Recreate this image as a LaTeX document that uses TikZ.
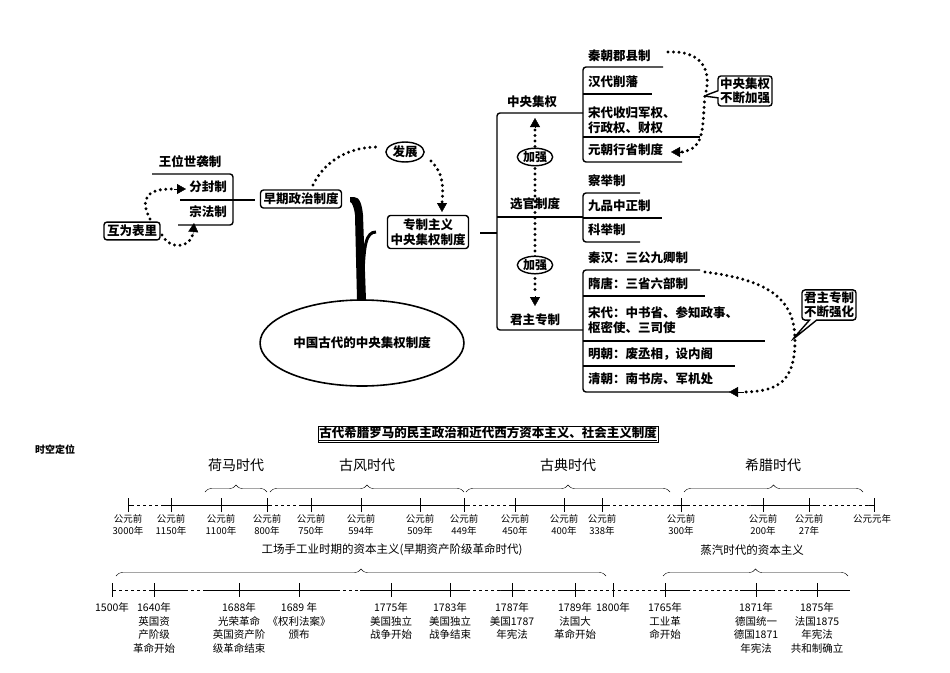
\documentclass[tikz,border=0pt]{standalone}
\usepackage{fontspec}
\setmainfont{Noto Sans CJK SC}
\usetikzlibrary{arrows.meta,shapes.geometric,shapes.callouts,decorations.pathreplacing}
\begin{document}
\begin{tikzpicture}[x=1pt,y=-1pt,
 t/.style={inner sep=1pt,font=\bfseries\fontsize{12.5}{15}\selectfont,align=left},
 s/.style={t,anchor=west},
 box/.style={draw,line width=1.4pt,rounded corners=3pt,inner sep=3pt,font=\bfseries\fontsize{12.5}{15}\selectfont,align=center},
 br/.style={line width=1.4pt,rounded corners=3pt},
 dotl/.style={line width=3.3pt,dash pattern=on 0pt off 5.5pt,line cap=round},
 tip/.style={-{Triangle[width=10pt,length=9pt]}},
 cal/.style={rectangle callout,draw,line width=1.4pt,rounded corners=3pt,inner sep=2pt,align=center,font=\bfseries\fontsize{12.5}{14}\selectfont},
 tl/.style={inner sep=1pt,font=\fontsize{9.5}{12}\selectfont,align=center},
 era/.style={inner sep=1pt,font=\fontsize{14}{16}\selectfont},
 brc/.style={decorate,decoration={brace,amplitude=7pt}}]
\useasboundingbox (0,0) rectangle (950,672);
% ---------- top left
\node[t] (wang) at (190,162) {王位世袭制};
\node[t] (fen) at (208,187) {分封制};
\node[t] (zong) at (208,212) {宗法制};
\draw[br] (152,174) -- (233,174) -- (233,225) -- (178,225);
\draw[br] (180,200) -- (255,200);
\node[box] (hu) at (132,231) {互为表里};
\node[box] (zao) at (301,199) {早期政治制度};
\draw[dotl] (150,219) .. controls (140,200) and (145,188) .. (175,189);
\draw[tip] (174,189) -- (186,189);
\draw[dotl] (162,235) .. controls (170,250) and (190,248) .. (193,234);
\draw[tip] (193,235) -- (194,223);
\node[draw,ellipse,line width=1.4pt,inner sep=1pt,font=\bfseries\fontsize{12.5}{15}\selectfont] (fz) at (405,152) {发展};
\node[box] (zz) at (428,232) {专制主义\\中央集权制度};
\draw[dotl] (313,185) .. controls (325,160) and (350,147) .. (377,147);
\draw[dotl] (431,161) .. controls (445,175) and (443,190) .. (442,203);
\draw[tip] (442,201) -- (442,212);
% trunk
\fill (350,197) -- (354,197) .. controls (360,197) and (362,205) .. (363,215) -- (366,300) -- (357,300) -- (355,215) .. controls (354,207) and (352,202) .. (350,202) -- cycle;
\draw[line width=3pt] (376,232) .. controls (366,232) and (364,245) .. (363,275);
\node[draw,ellipse,line width=1.6pt,minimum width=195pt,minimum height=86pt,font=\bfseries\fontsize{12.5}{15}\selectfont] (gu) at (362,343) {中国古代的中央集权制度};
% main bracket
\draw[br] (480,233) -- (497,233);
\draw[br] (583,113) -- (497,113) -- (497,330) -- (583,330);
\draw[br] (497,217) -- (583,217);
\node[t] (zy) at (532,102) {中央集权};
\node[t] (xg) at (535,204) {选官制度};
\node[t] (jz) at (535,320) {君主专制};
\draw[dotl] (535,130) -- (535,293);
\draw[-{Triangle[width=10pt,length=9pt]}] (535,128) -- (535,118);
\draw[-{Triangle[width=10pt,length=9pt]}] (535,296) -- (535,306);
\node[draw,ellipse,fill=white,line width=1.4pt,inner sep=0.5pt,font=\bfseries\fontsize{12}{14}\selectfont] (jq1) at (535,157) {加强};
\node[draw,ellipse,fill=white,line width=1.4pt,inner sep=0.5pt,font=\bfseries\fontsize{12}{14}\selectfont] (jq2) at (535,265) {加强};
% 中央集权 sub
\node[s] (qin) at (587,56) {秦朝郡县制};
\node[s] (han) at (587,82) {汉代削藩};
\node[s] (song) at (587,120) {宋代收归军权、\\行政权、财权};
\node[s] (yuan) at (587,150) {元朝行省制度};
\draw[br] (663,67) -- (583,67) -- (583,162) -- (682,162);
\draw[br] (583,94) -- (652,94);
\draw[br] (583,137) -- (700,137);
\draw[dotl] (668,52) .. controls (710,50) and (710,80) .. (705,95) .. controls (702,130) and (705,148) .. (682,152);
\draw[tip] (684,152) -- (671,152);
\node[cal,callout absolute pointer={(704,96)}] (c1) at (745,91) {中央集权\\不断加强};
% 选官 sub
\node[s] (cha) at (587,181) {察举制};
\node[s] (jiu) at (587,206) {九品中正制};
\node[s] (ke) at (587,230) {科举制};
\draw[br] (640,193) -- (583,193) -- (583,242) -- (640,242);
\draw[br] (583,218) -- (662,218);
% 君主专制 sub
\node[s] (qh) at (587,258) {秦汉：三公九卿制};
\node[s] (st) at (587,284) {隋唐：三省六部制};
\node[s] (sd) at (587,320) {宋代：中书省、参知政事、\\枢密使、三司使};
\node[s] (mc) at (587,354) {明朝：废丞相，设内阁};
\node[s] (qc) at (587,379) {清朝：南书房、军机处};
\draw[br] (700,270) -- (583,270) -- (583,392) -- (730,392);
\draw[br] (583,296) -- (705,296);
\draw[br] (583,341) -- (765,341);
\draw[br] (583,366) -- (735,366);
\draw[dotl] (705,272) .. controls (770,280) and (795,300) .. (795,340) .. controls (795,380) and (780,392) .. (742,392);
\draw[tip] (744,392) -- (729,392);
\node[cal,callout absolute pointer={(792,340)}] (c2) at (829,305) {君主专制\\不断强化};
% ---------- bottom
\node[draw,inner sep=1pt,font=\bfseries\fontsize{12.5}{15}\selectfont] (title) at (488,434) {\underline{古代希腊罗马的民主政治和近代西方资本主义、社会主义制度}};
\node[font=\bfseries\fontsize{10}{12}\selectfont] (skd) at (55,450) {时空定位};
\node[era] (e1) at (236,465) {荷马时代};
\node[era] (e2) at (367,465) {古风时代};
\node[era] (e3) at (568,465) {古典时代};
\node[era] (e4) at (773,465) {希腊时代};
\draw[brc] (205,492) -- (267,492);
\draw[brc] (270,492) -- (464,492);
\draw[brc] (466,492) -- (670,492);
\draw[brc] (684,492) -- (863,492);
\draw[thick] (128,505) -- (874,505);
\draw[white,line width=1.5pt,dash pattern=on 3pt off 3pt] (134,505) -- (164,505) (272,505) -- (300,505) (470,505) -- (510,505) (610,505) -- (676,505) (690,505) -- (750,505) (820,505) -- (868,505);
\foreach \x/\a/\b [count=\i] in {128/公元前/3000年,171/公元前/1150年,221/公元前/1100年,267/公元前/800年,311/公元前/750年,361/公元前/594年,420/公元前/509年,464/公元前/449年,515/公元前/450年,564/公元前/400年,602/公元前/338年,681/公元前/300年,763/公元前/200年,809/公元前/27年}{
 \draw[thick] (\x,498) -- (\x,512);
 \node[tl] (ta\i) at (\x,525) {\a\\\b};}
\draw[thick] (874,498) -- (874,512);
\node[tl,anchor=north] (yy) at (872,513) {公元元年};
% second timeline
\node[font=\fontsize{11.5}{14}\selectfont] (gc) at (392,550) {工场手工业时期的资本主义(早期资产阶级革命时代)};
\node[font=\fontsize{11.5}{14}\selectfont] (zq) at (752,550) {蒸汽时代的资本主义};
\draw[brc] (116,576) -- (606,576);
\draw[brc] (663,576) -- (848,576);
\draw[thick] (112,590) -- (850,590);
\draw[white,line width=1.5pt,dash pattern=on 3pt off 3pt] (116,590) -- (152,590) (188,590) -- (205,590) (340,590) -- (360,590) (470,590) -- (500,590) (525,590) -- (560,590) (585,590) -- (660,590) (690,590) -- (740,590) (775,590) -- (800,590);
\foreach \x/\y/\d [count=\i] in {112/1500年/,154/1640年/英国资\\产阶级\\革命开始,239/1688年/光荣革命\\英国资产阶\\级革命结束,299/1689 年/《权利法案》\\颁布,391/1775年/美国独立\\战争开始,450/1783年/美国独立\\战争结束,512/1787年/美国1787\\年宪法,575/1789年/法国大\\革命开始,613/1800年/,665/1765年/工业革\\命开始,756/1871年/德国统一\\德国1871\\年宪法,817/1875年/法国1875\\年宪法\\共和制确立}{
 \draw[thick] (\x,583) -- (\x,597);
 \node[tl,font=\fontsize{10.5}{13.5}\selectfont,anchor=north] (tb\i) at (\x,601) {\y};
 \node[tl,font=\fontsize{10.5}{13.5}\selectfont,anchor=north] (td\i) at (\x,615) {\d};}
\end{tikzpicture}
\end{document}
